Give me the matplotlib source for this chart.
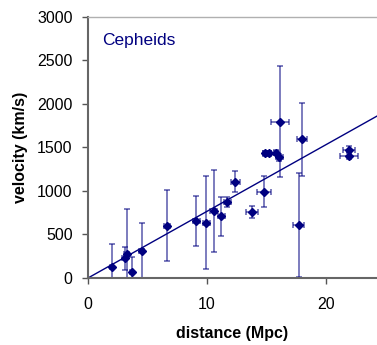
import numpy as np
import matplotlib
matplotlib.use("Agg")
import matplotlib.pyplot as plt

plt.rcParams["font.family"] = ["Liberation Sans", "DejaVu Sans"]

# Cepheid distances (Mpc) and recession velocities (km/s)
dist = [1.98, 3.24, 3.10, 3.66, 4.50, 6.65, 9.11, 9.95, 10.56, 11.20, 11.71,
        12.38, 13.80, 14.78, 14.90, 15.20, 15.80, 16.10, 16.13, 17.70, 17.96,
        21.96, 21.96]
vel = [125, 272, 226, 65, 310, 600, 658, 635, 765, 708, 873,
       1106, 761, 991, 1430, 1430, 1440, 1385, 1794, 608, 1592,
       1470, 1404]
vel_err = [270, 525, 135, 176, 320, 410, 285, 535, 470, 222, 60,
           120, 70, 180, 30, 30, 30, 40, 635, 600, 420,
           40, 40]
dist_err = [0.15, 0.20, 0.20, 0.15, 0.25, 0.28, 0.30, 0.30, 0.30, 0.30, 0.30,
            0.39, 0.53, 0.59, 0.20, 0.20, 0.20, 0.30, 0.74, 0.49, 0.42,
            0.50, 0.74]

# Hubble fit through the origin
H0 = 76.5
x_max = 24.3

navy = "#000080"

fig = plt.figure(figsize=(3.77, 3.45), dpi=100)
ax = fig.add_axes([88 / 377, 67 / 345, 1 - 88 / 377, (278 - 16.7) / 345])

ax.errorbar(dist, vel, xerr=dist_err, yerr=vel_err, fmt="none",
            ecolor=navy, alpha=0.6, elinewidth=1.2, capsize=2.5, capthick=1.2)
ax.plot(dist, vel, "D", color=navy, markersize=4.2)

fit_x = np.array([0, x_max])
ax.plot(fit_x, H0 * fit_x, color=navy, lw=1)

ax.set_xlim(0, x_max)
ax.set_ylim(0, 3000)
ax.set_xticks([0, 10, 20])
ax.set_yticks(range(0, 3001, 500))

ax.text(0.05, 0.91, "Cepheids", transform=ax.transAxes, color=navy,
        fontsize=12.5, va="center")

ax.set_xlabel("distance (Mpc)", fontsize=11.5, fontweight="bold", labelpad=10)
ax.set_ylabel("velocity (km/s)", fontsize=11.5, fontweight="bold", labelpad=7)

ax.tick_params(labelsize=11.5, length=4, width=1, color="#555555")
ax.tick_params(axis="x", pad=10)
ax.tick_params(axis="y", pad=7)

ax.spines["right"].set_visible(False)
ax.spines["top"].set_color("#b0b0b0")
ax.spines["top"].set_linewidth(1)
for side in ["left", "bottom"]:
    ax.spines[side].set_color("#666666")
    ax.spines[side].set_linewidth(1.5)

fig.savefig("out.png", dpi=100)
